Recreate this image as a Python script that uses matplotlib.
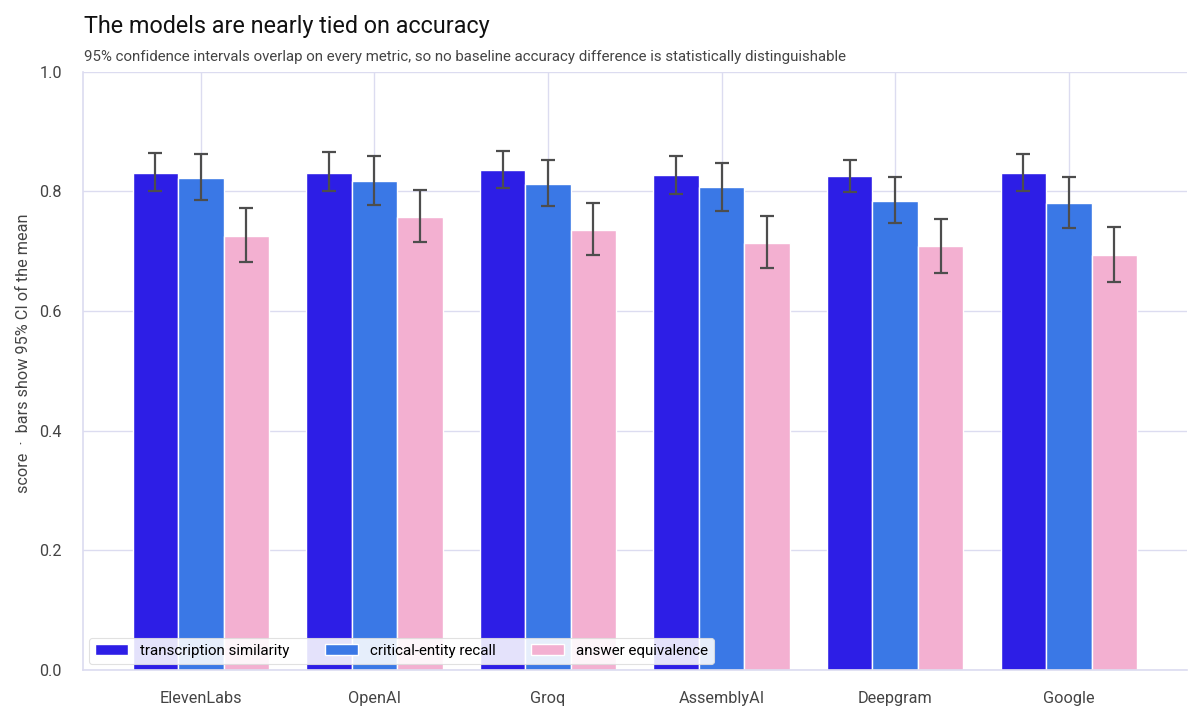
import numpy as np
import matplotlib
matplotlib.use("Agg")
import matplotlib.pyplot as plt

plt.rcParams['font.family'] = ['Roboto', 'DejaVu Sans']

providers = ['ElevenLabs', 'OpenAI', 'Groq', 'AssemblyAI', 'Deepgram', 'Google']
metrics = ['transcription similarity', 'critical-entity recall', 'answer equivalence']

trans = [0.830, 0.831, 0.835, 0.827, 0.825, 0.830]
trans_lo = [0.800, 0.800, 0.806, 0.796, 0.799, 0.800]
trans_hi = [0.864, 0.866, 0.868, 0.860, 0.853, 0.863]

crit = [0.822, 0.817, 0.813, 0.807, 0.784, 0.780]
crit_lo = [0.785, 0.778, 0.775, 0.768, 0.747, 0.739]
crit_hi = [0.863, 0.859, 0.853, 0.848, 0.824, 0.824]

ans = [0.726, 0.757, 0.735, 0.713, 0.708, 0.693]
ans_lo = [0.682, 0.715, 0.693, 0.672, 0.664, 0.648]
ans_hi = [0.772, 0.803, 0.780, 0.759, 0.754, 0.741]

colors = ['#2d1ee6', '#3a78e6', '#f3b0d1']
grid_c = '#dcdcf0'

fig = plt.figure(figsize=(12, 7.18), dpi=100)
ax = fig.add_axes([0.069, 0.067, 0.92, 0.833])

x = np.arange(len(providers))
w = 0.262
series = [(trans, trans_lo, trans_hi), (crit, crit_lo, crit_hi), (ans, ans_lo, ans_hi)]
for k, (vals, lo, hi) in enumerate(series):
    vals = np.array(vals)
    err = [vals - np.array(lo), np.array(hi) - vals]
    ax.bar(x + (k - 1) * w, vals, width=w, color=colors[k], edgecolor='white',
           linewidth=1.0, label=metrics[k], zorder=2)
    ax.errorbar(x + (k - 1) * w, vals, yerr=err, fmt='none', ecolor='#4d4d4d',
                elinewidth=1.6, capsize=5, capthick=1.6, zorder=3)

ax.set_xlim(-0.68, 5.68)
ax.set_ylim(0, 1.0)
ax.set_yticks([0, 0.2, 0.4, 0.6, 0.8, 1.0])
ax.set_yticklabels(['0.0', '0.2', '0.4', '0.6', '0.8', '1.0'])
ax.set_xticks(x)
ax.set_xticklabels(providers)
ax.tick_params(axis='both', length=0, labelsize=11.7, labelcolor='#444444')
ax.tick_params(axis='x', pad=15)
ax.tick_params(axis='y', pad=15)
ax.grid(True, color=grid_c, linewidth=1.0, zorder=0)
ax.set_axisbelow(True)
for s in ['top', 'right']:
    ax.spines[s].set_visible(False)
for s in ['left', 'bottom']:
    ax.spines[s].set_color(grid_c)
    ax.spines[s].set_linewidth(1.2)

ax.set_ylabel('score  ·  bars show 95% CI of the mean', fontsize=11.7, color='#444444')
ax.yaxis.set_label_coords(-0.047, 0.53)

leg = ax.legend(loc='lower left', ncol=3, fontsize=10.9, frameon=True, framealpha=0.88,
                edgecolor='#dddddd', handlelength=2.2, handleheight=0.75,
                columnspacing=2.3, borderaxespad=0.4, bbox_to_anchor=(0.0, 0.0))
leg.get_frame().set_linewidth(0.8)

fig.text(0.07, 0.954, 'The models are nearly tied on accuracy', fontsize=16.8,
         color='#111111', va='baseline', ha='left')
fig.text(0.07, 0.915, '95% confidence intervals overlap on every metric, so no baseline '
         'accuracy difference is statistically distinguishable', fontsize=10.8,
         color='#444444', va='baseline', ha='left')

fig.savefig('out.png', dpi=100)
